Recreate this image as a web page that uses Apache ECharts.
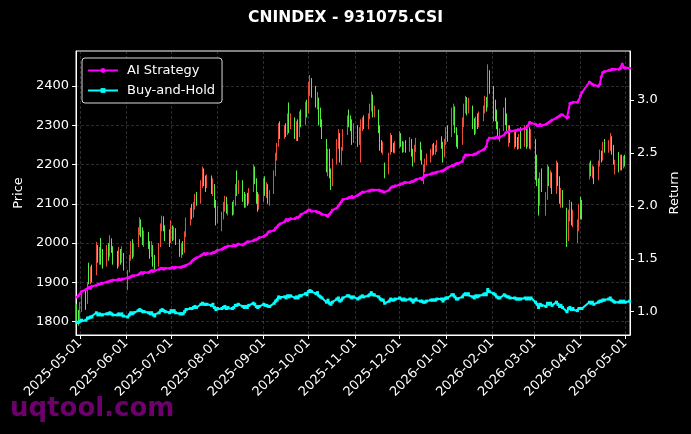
<!DOCTYPE html>
<html><head><meta charset="utf-8">
<script src="https://cdn.jsdelivr.net/npm/echarts@6/dist/echarts.min.js"></script>
<style>html,body{margin:0;padding:0;background:#000}#c{width:691px;height:434px}</style>
</head><body><div id="c"></div>
<script>
const chartTitle = 'CNINDEX - 931075.CSI';
const firstDay = '2025-04-29', lastDay = '2026-05-04';
const holidays = ['2026-04-03', '2026-04-06'];
const monthTicks = ['2025-05-01','2025-06-01','2025-07-01','2025-08-01','2025-09-01','2025-10-01','2025-11-01','2025-12-01','2026-01-01','2026-02-01','2026-03-01','2026-04-01','2026-05-01'];
const priceTicks = [1800, 1900, 2000, 2100, 2200, 2300, 2400];
const returnTicks = [1.0, 1.5, 2.0, 2.5, 3.0];

const opens = [
1830,1812,1805,1840,
1865,1855,1935,1910,1925, 1920,1985,1960,2005,1965, 1950,1990,1975,2000,1985, 1965,1950,1975,1960,1965,
1900,1930,1965,1995,1975, 1995,2030,2050,2030,2010, 2015,1995,1980,1990,1955, 1945,1995,2040,2060,2040,
2020,2005,2040,2020,2030, 2000,1975,1990,1980,2020, 2055,2080,2075,2095,2115, 2110,2150,2180,2160,2150,
2165,2140,2145,2100,2060, 2040,2070,2095,2110,2085, 2095,2080,2100,2175,2135, 2150,2120,2100,2115,2105,
2135,2185,2160,2120,2095, 2110,2150,2130,2145,2110, 2130,2175,2220,2250,2290, 2275,2290,2285,2330,2300,
2310,2280,2300,2275,2320, 2305,2350,2335,2395,2410, 2390,2360,2365,2320,2305, 2260,2200,2230,2175,2150,
2205,2255,2275,2205,2240, 2280,2330,2310,2300,2270, 2290,2265,2230,2295,2310, 2300,2320,2345,2370,2335,
2335,2290,2250,2232,2200, 2180,2230,2260,2245,2240, 2250,2270,2255,2240,2250, 2245,2258,2230,2210,2240,
2250,2225,2160,2190,2205, 2215,2230,2245,2235,2240, 2268,2250,2225,2255,2280, 2275,2330,2340,2290,2265,
2255,2300,2345,2365,2340, 2345,2305,2285,2310,2300, 2320,2340,2365,2350,2430, 2395,2350,2330,2300,2265,
2290,2360,2320,2270,2290, 2255,2275,2260,2250,2285, 2260,2290,2265,2280,2255, 2260,2200,2160,2100,2160,
2080,2120,2180,2160,2165, 2140,2195,2160,2100,2130, 2085,2015,2075,2095,2060, 2010,2040,2110,2100,
2168,2195,2172,2185, 2165,2200,2225,2215,2258, 2240,2245,2265,2240,2185, 2228,2200,2215,2195,2210,
2205];
const closes = [
1815,1805,1840,1862,
1850,1890,1905,1925,1915, 1990,1960,1975,1965,1955, 1985,1970,2005,1985,1960, 1950,1975,1960,1980,1940,
1925,1960,1995,1975,1990, 2030,2055,2030,2010,2020, 1995,1980,1995,1950,1935, 1990,2040,2060,2040,2020,
2005,2040,2020,2030,2005, 1975,1985,1978,2020,2055, 2080,2070,2095,2115,2105, 2150,2185,2160,2150,2165,
2140,2150,2100,2060,2080, 2070,2095,2110,2085,2095, 2080,2100,2140,2130,2150, 2120,2100,2115,2105,2130,
2185,2160,2120,2095,2110, 2150,2130,2145,2110,2125, 2175,2220,2245,2290,2275, 2290,2280,2320,2300,2315,
2280,2300,2270,2320,2310, 2350,2330,2400,2415,2390, 2360,2370,2320,2305,2280, 2200,2230,2175,2150,2200,
2255,2275,2225,2235,2275, 2310,2310,2300,2270,2290, 2265,2280,2295,2310,2300, 2320,2345,2375,2335,2340,
2290,2250,2240,2245,2175, 2220,2260,2245,2240,2250, 2270,2255,2240,2250,2245, 2260,2230,2205,2240,2255,
2225,2210,2190,2205,2215, 2230,2245,2235,2240,2255, 2250,2220,2255,2280,2270, 2330,2345,2290,2260,2250,
2300,2345,2365,2340,2355, 2305,2285,2310,2300,2320, 2340,2365,2345,2430,2400, 2350,2330,2300,2280,2285,
2330,2320,2295,2290,2270, 2275,2260,2250,2265,2255, 2285,2265,2275,2255,2270, 2200,2160,2095,2160,2145,
2120,2180,2160,2170,2140, 2195,2160,2120,2130,2105, 2010,2070,2095,2060,2075, 2040,2080,2075,2080,
2195,2180,2188,2160, 2200,2225,2215,2245,2240, 2250,2270,2240,2215,2205, 2200,2215,2195,2210,2205,
2215];
const lows = [
1800,1790,1798,1825,
1830,1845,1895,1895,1900, 1918,1950,1945,1945,1935, 1940,1955,1965,1975,1945, 1935,1940,1945,1950,1930,
1880,1925,1955,1960,1965, 1990,2020,2015,1995,1990, 1985,1960,1965,1940,1926, 1940,1990,2030,2030,2005,
1990,2000,2005,2008,1995, 1965,1962,1970,1975,2015, 2045,2060,2065,2085,2095, 2100,2140,2145,2130,2140,
2125,2120,2090,2045,2050, 2030,2060,2080,2075,2070, 2070,2072,2095,2120,2125, 2105,2090,2090,2095,2100,
2130,2150,2100,2080,2085, 2105,2120,2115,2100,2095, 2125,2170,2210,2245,2265, 2265,2270,2275,2280,2290,
2265,2260,2260,2270,2295, 2300,2320,2330,2375,2370, 2345,2340,2300,2295,2265, 2180,2170,2165,2135,2145,
2200,2240,2205,2198,2235, 2275,2295,2285,2250,2255, 2245,2250,2205,2285,2290, 2290,2315,2335,2320,2320,
2280,2235,2230,2225,2165, 2175,2225,2232,2230,2228, 2242,2245,2230,2232,2230, 2232,2220,2195,2205,2232,
2210,2200,2150,2180,2198, 2205,2222,2225,2225,2232, 2240,2205,2218,2250,2258, 2270,2300,2280,2245,2240,
2250,2295,2330,2325,2330, 2290,2275,2278,2290,2295, 2310,2330,2335,2345,2380, 2310,2310,2290,2265,2258,
2285,2300,2285,2245,2255, 2240,2245,2238,2240,2240, 2245,2240,2245,2240,2238, 2160,2145,2070,2095,2130,
2070,2110,2145,2140,2125, 2125,2145,2100,2090,2090, 1990,2005,2055,2045,2040, 2000,2030,2060,2060,
2162,2170,2165,2150, 2160,2195,2205,2210,2230, 2230,2235,2225,2200,2175, 2180,2185,2185,2190,2195,
2195];
const highs = [
1845,1830,1850,1872,
1880,1900,1950,1940,1945, 2003,1995,1990,2013,1985, 1995,2000,2020,2012,1992, 1980,1990,1985,1992,1975,
1932,1970,2005,2010,2000, 2040,2066,2060,2040,2032, 2028,2005,2005,1995,1970, 2000,2050,2070,2068,2045,
2035,2058,2045,2042,2038, 2010,2000,2005,2030,2065, 2090,2100,2105,2125,2130, 2160,2195,2190,2172,2175,
2172,2165,2150,2110,2095, 2080,2105,2120,2118,2100, 2105,2110,2150,2185,2160, 2160,2130,2125,2128,2140,
2200,2195,2165,2130,2125, 2165,2170,2155,2150,2135, 2185,2230,2255,2305,2310, 2300,2305,2330,2358,2330,
2320,2310,2315,2335,2340, 2360,2365,2410,2428,2420, 2400,2385,2370,2345,2315, 2265,2240,2240,2190,2215,
2265,2290,2280,2245,2290, 2325,2340,2325,2315,2305, 2300,2295,2315,2320,2325, 2330,2355,2385,2378,2350,
2340,2300,2262,2258,2205, 2230,2280,2275,2255,2260, 2285,2280,2260,2258,2262, 2270,2265,2240,2250,2268,
2258,2238,2200,2215,2228, 2240,2252,2255,2250,2262, 2272,2258,2265,2295,2300, 2345,2355,2348,2295,2275,
2320,2355,2375,2372,2370, 2350,2318,2322,2330,2335, 2350,2375,2372,2455,2440, 2400,2365,2340,2310,2292,
2345,2370,2330,2300,2300, 2285,2285,2270,2278,2295, 2300,2300,2290,2295,2290, 2265,2225,2165,2180,2190,
2130,2200,2195,2185,2180, 2210,2205,2170,2140,2135, 2090,2085,2110,2105,2085, 2060,2100,2118,2110,
2205,2210,2198,2195, 2210,2238,2235,2258,2265, 2262,2280,2272,2250,2212, 2232,2225,2225,2222,2225,
2228];
const aiStrategy = [
1.14,1.15,1.17,1.19,
1.21,1.22,1.23,1.22,1.24, 1.25,1.26,1.26,1.27,1.27, 1.28,1.28,1.29,1.29,1.30, 1.30,1.31,1.30,1.31,1.31,
1.32,1.32,1.33,1.34,1.34, 1.35,1.36,1.37,1.36,1.37, 1.37,1.38,1.39,1.38,1.39, 1.40,1.41,1.41,1.40,1.41,
1.41,1.41,1.42,1.41,1.42, 1.42,1.42,1.43,1.43,1.44, 1.46,1.48,1.49,1.50,1.51, 1.53,1.54,1.55,1.54,1.55,
1.55,1.56,1.56,1.57,1.58, 1.59,1.60,1.61,1.61,1.62, 1.62,1.63,1.62,1.63,1.64, 1.63,1.64,1.65,1.66,1.66,
1.67,1.68,1.68,1.69,1.70, 1.71,1.72,1.73,1.75,1.76, 1.77,1.79,1.80,1.82,1.83, 1.85,1.87,1.86,1.87,1.88,
1.88,1.89,1.89,1.90,1.92, 1.94,1.95,1.96,1.96,1.95, 1.95,1.94,1.94,1.93,1.92, 1.91,1.90,1.92,1.94,1.96,
1.98,2.00,2.02,2.04,2.06, 2.07,2.08,2.08,2.09,2.08, 2.10,2.11,2.12,2.13,2.13, 2.14,2.14,2.15,2.15,2.15,
2.15,2.14,2.14,2.13,2.13, 2.15,2.17,2.18,2.18,2.19, 2.20,2.21,2.21,2.22,2.22, 2.22,2.23,2.23,2.24,2.25,
2.26,2.25,2.27,2.29,2.29, 2.30,2.31,2.31,2.31,2.32, 2.33,2.33,2.34,2.35,2.36, 2.38,2.38,2.39,2.40,2.40,
2.42,2.46,2.48,2.48,2.48, 2.48,2.49,2.49,2.50,2.51, 2.53,2.54,2.56,2.62,2.64, 2.64,2.64,2.65,2.64,2.65,
2.67,2.69,2.70,2.70,2.71, 2.71,2.71,2.72,2.72,2.72, 2.73,2.74,2.76,2.79,2.78, 2.77,2.76,2.76,2.77,2.76,
2.77,2.78,2.79,2.80,2.81, 2.83,2.84,2.85,2.86,2.86, 2.83,2.84,2.97,2.97,2.98, 2.98,3.00,3.04,3.07,
3.17,3.16,3.15,3.14, 3.13,3.15,3.22,3.26,3.27, 3.28,3.28,3.29,3.29,3.29, 3.29,3.30,3.34,3.31,3.30,
3.30];
const buyHold = [
0.90,0.90,0.91,0.92,
0.92,0.94,0.94,0.95,0.95, 0.99,0.97,0.98,0.97,0.97, 0.98,0.98,0.99,0.98,0.97, 0.97,0.98,0.97,0.98,0.96,
0.95,0.97,0.99,0.98,0.99, 1.01,1.02,1.01,1.00,1.00, 0.99,0.98,0.99,0.97,0.96, 0.99,1.01,1.02,1.01,1.00,
0.99,1.01,1.00,1.01,0.99, 0.98,0.98,0.98,1.00,1.02, 1.03,1.03,1.04,1.05,1.04, 1.07,1.08,1.07,1.07,1.07,
1.06,1.07,1.04,1.02,1.03, 1.03,1.04,1.05,1.03,1.04, 1.03,1.04,1.06,1.06,1.07, 1.05,1.04,1.05,1.04,1.06,
1.08,1.07,1.05,1.04,1.05, 1.07,1.06,1.06,1.05,1.05, 1.08,1.10,1.11,1.14,1.13, 1.14,1.13,1.15,1.14,1.15,
1.13,1.14,1.13,1.15,1.15, 1.17,1.16,1.19,1.20,1.19, 1.17,1.18,1.15,1.14,1.13, 1.09,1.11,1.08,1.07,1.09,
1.12,1.13,1.10,1.11,1.13, 1.15,1.15,1.14,1.13,1.14, 1.12,1.13,1.14,1.15,1.14, 1.15,1.16,1.18,1.16,1.16,
1.14,1.12,1.11,1.11,1.08, 1.10,1.12,1.11,1.11,1.12, 1.13,1.12,1.11,1.12,1.11, 1.12,1.11,1.09,1.11,1.12,
1.10,1.10,1.09,1.09,1.10, 1.11,1.11,1.11,1.11,1.12, 1.12,1.10,1.12,1.13,1.13, 1.16,1.16,1.14,1.12,1.12,
1.14,1.16,1.17,1.16,1.17, 1.14,1.13,1.15,1.14,1.15, 1.16,1.17,1.16,1.21,1.19, 1.17,1.16,1.14,1.13,1.13,
1.16,1.15,1.14,1.14,1.13, 1.13,1.12,1.12,1.12,1.12, 1.13,1.12,1.13,1.12,1.13, 1.09,1.07,1.04,1.07,1.06,
1.05,1.08,1.07,1.08,1.06, 1.09,1.07,1.05,1.06,1.04, 1.00,1.03,1.04,1.02,1.03, 1.01,1.03,1.03,1.03,
1.09,1.08,1.09,1.07, 1.09,1.10,1.10,1.11,1.11, 1.12,1.13,1.11,1.10,1.09, 1.09,1.10,1.09,1.10,1.09,
1.10];

const FONT = 'DejaVu Sans';
const upColor = '#ef4b3b', downColor = '#55ee44';
function utc(s) { const p = s.split('-').map(Number); return Date.UTC(p[0], p[1] - 1, p[2]); }
const DAY = 86400000;
const dates = [];
for (let t = utc(firstDay); t <= utc(lastDay); t += DAY) {
  const d = new Date(t), wd = d.getUTCDay();
  if (wd === 0 || wd === 6) continue;
  if (holidays.includes(d.toISOString().slice(0, 10))) continue;
  dates.push(t);
}
const candleData = dates.map((t, i) => [t, opens[i], closes[i], lows[i], highs[i]]);
const aiData = dates.map((t, i) => [t, aiStrategy[i]]);
const bhData = dates.map((t, i) => [t, buyHold[i]]);
const monthVals = monthTicks.map(utc);
const xMin = Date.UTC(2025, 3, 28, 7, 40), xMax = Date.UTC(2026, 4, 4, 5, 0);
const gridLine = { show: true, lineStyle: { color: 'rgba(140,140,140,0.45)', type: [3, 2], width: 0.7 } };

const chart = echarts.init(document.getElementById('c'), null, { renderer: 'canvas' });
chart.setOption({
  backgroundColor: '#000',
  animation: false,
  title: { text: chartTitle, left: 'center', top: 5, textStyle: { color: '#fff', fontSize: 15.5, fontWeight: 'bold', fontFamily: FONT } },
  grid: { left: 76, right: 61, top: 51, bottom: 99, show: true, borderColor: '#fff', borderWidth: 1, backgroundColor: 'transparent' },
  legend: {
    left: 82, top: 58, orient: 'vertical',
    data: ['AI Strategy', 'Buy-and-Hold'],
    itemWidth: 30, itemHeight: 6, itemGap: 7,
    padding: [6, 7, 6, 5],
    backgroundColor: 'rgba(0,0,0,0.85)', borderColor: 'rgba(255,255,255,0.85)', borderWidth: 1, borderRadius: 3,
    textStyle: { color: '#fff', fontSize: 13, fontFamily: FONT, padding: [0, 0, 0, 4] }
  },
  xAxis: {
    type: 'value', min: xMin, max: xMax,
    axisLine: { show: true, onZero: false, lineStyle: { color: '#fff' } },
    axisTick: { show: true, length: 4, lineStyle: { color: '#fff' }, customValues: monthVals },
    axisLabel: { customValues: monthVals, rotate: 45, color: '#fff', fontSize: 13, fontFamily: FONT, margin: 6,
      formatter: v => new Date(v).toISOString().slice(0, 10) },
    splitLine: gridLine
  },
  yAxis: [
    { type: 'value', min: 1766, max: 2489, position: 'left', name: 'Price', nameLocation: 'middle', nameGap: 50,
      nameTextStyle: { color: '#fff', fontSize: 13, fontFamily: FONT },
      axisLine: { show: true, lineStyle: { color: '#fff' } },
      axisTick: { show: true, length: 4, lineStyle: { color: '#fff' }, customValues: priceTicks },
      axisLabel: { customValues: priceTicks, color: '#fff', fontSize: 13, fontFamily: FONT, margin: 7, formatter: v => String(v) },
      splitLine: gridLine },
    { type: 'value', min: 0.78, max: 3.463, position: 'right', name: 'Return', nameLocation: 'middle', nameGap: 36,
      nameTextStyle: { color: '#fff', fontSize: 13, fontFamily: FONT },
      axisLine: { show: true, lineStyle: { color: '#fff' } },
      axisTick: { show: true, length: 4, lineStyle: { color: '#fff' }, customValues: returnTicks },
      axisLabel: { customValues: returnTicks, color: '#fff', fontSize: 13, fontFamily: FONT, margin: 7, formatter: v => v.toFixed(1) },
      splitLine: { show: false } }
  ],
  series: [
    { type: 'candlestick', name: 'Price', xAxisIndex: 0, yAxisIndex: 0, data: candleData, encode: { x: 0, y: [1, 2, 3, 4] },
      barWidth: 1.2, z: 1,
      itemStyle: { color: upColor, color0: downColor, borderColor: upColor, borderColor0: downColor, borderWidth: 1 } },
    { type: 'line', name: 'AI Strategy', yAxisIndex: 1, data: aiData, symbol: 'circle', symbolSize: 3, showSymbol: true, showAllSymbol: true,
      lineStyle: { color: '#ff00ff', width: 2 }, itemStyle: { color: '#ff00ff' }, z: 3 },
    { type: 'line', name: 'Buy-and-Hold', yAxisIndex: 1, data: bhData, symbol: 'rect', symbolSize: 3, showSymbol: true, showAllSymbol: true,
      lineStyle: { color: '#00ffff', width: 2 }, itemStyle: { color: '#00ffff' }, z: 3 }
  ],
  graphic: [
    { type: 'text', left: 10, top: 396, z: 100, silent: true,
      style: { text: 'uqtool.com', fill: 'rgba(128,0,128,0.85)', font: 'bold 26px "DejaVu Sans"' } }
  ]
});
</script></body></html>
